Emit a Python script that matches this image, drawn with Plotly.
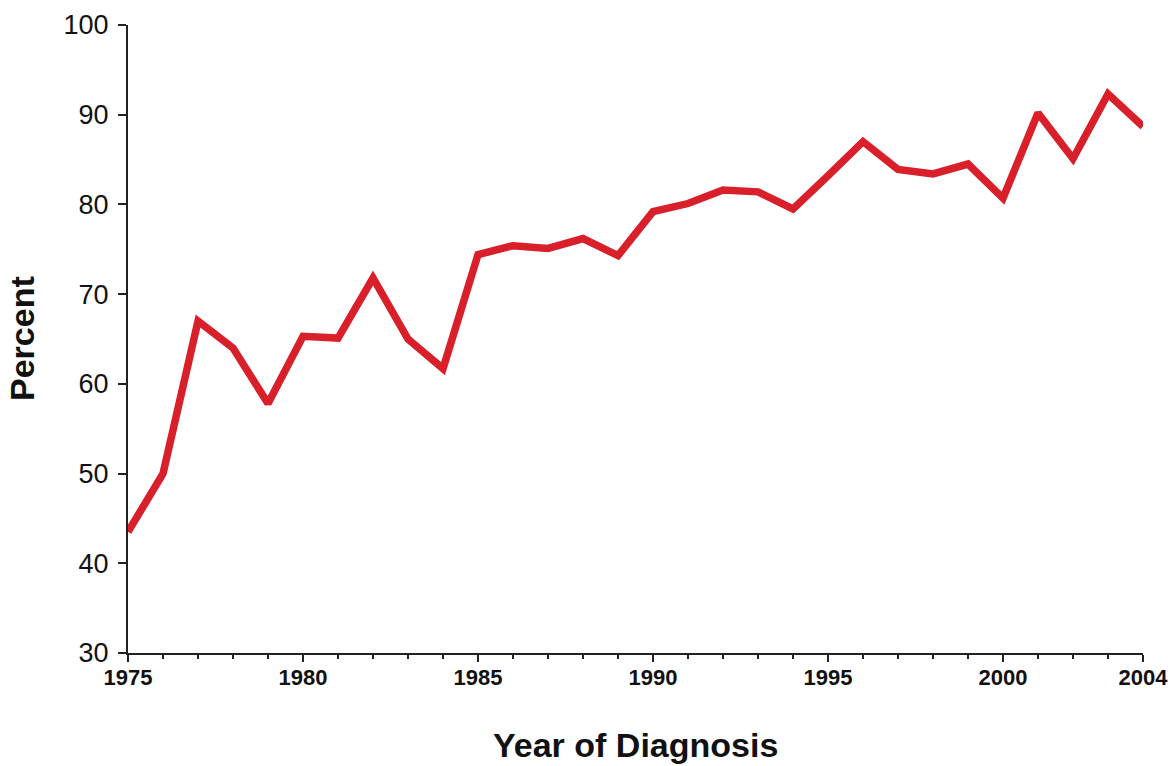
import plotly.graph_objects as go

years = list(range(1975, 2005))
percent = [43.5, 50.0, 67.0, 64.0, 57.8, 65.3, 65.1, 71.8, 65.0, 61.7,
           74.4, 75.4, 75.1, 76.2, 74.3, 79.2, 80.1, 81.6, 81.4, 79.5,
           83.2, 87.0, 83.9, 83.4, 84.5, 80.7, 90.2, 85.1, 92.3, 88.7]
x_tickvals = [1975, 1980, 1985, 1990, 1995, 2000, 2004]
x_ticktext = ["1975", "1980", "1985", "1990", "1995", "2000", "2004"]
y_tickvals = [30, 40, 50, 60, 70, 80, 90, 100]

fig = go.Figure()
fig.add_trace(go.Scatter(
    x=years, y=percent, mode="lines",
    line=dict(color="#d81f2a", width=7.5),
    cliponaxis=False, hoverinfo="x+y"
))

fig.update_layout(
    width=1168, height=766,
    margin=dict(l=128, r=25, t=25, b=113),
    paper_bgcolor="white", plot_bgcolor="white",
    showlegend=False,
    font=dict(family="Liberation Sans, Arial, sans-serif", color="#111"),
    xaxis=dict(
        range=[1975, 2004], showgrid=False, zeroline=False, automargin=False,
        showline=True, linecolor="#222", linewidth=2,
        ticks="outside", ticklen=7, tickwidth=2, tickcolor="#222",
        tickvals=x_tickvals, ticktext=x_ticktext, ticklabeloverflow="allow",
        ticklabelstandoff=-3,
        tickfont=dict(size=22, weight="bold"),
        minor=dict(tickvals=years, ticks="outside", ticklen=4, tickwidth=2, tickcolor="#222"),
    ),
    yaxis=dict(
        range=[30, 100], showgrid=False, zeroline=False, automargin=False,
        showline=True, linecolor="#222", linewidth=2,
        ticks="outside", ticklen=8, tickwidth=2, tickcolor="#222",
        tickvals=y_tickvals, ticklabelstandoff=4, ticklabeloverflow="allow",
        tickfont=dict(size=27),
    ),
    annotations=[
        dict(text="<b>Year of Diagnosis</b>", xref="paper", yref="paper",
             x=0.5, y=0, yshift=-92, showarrow=False,
             font=dict(size=34), xanchor="center", yanchor="middle"),
        dict(text="<b>Percent</b>", xref="paper", yref="paper",
             x=0, y=0.5, xshift=-106, showarrow=False, textangle=-90,
             font=dict(size=34), xanchor="center", yanchor="middle"),
    ],
)

fig.write_html("out.html", config={"displayModeBar": False},
               post_script="document.body.style.margin='0';")
